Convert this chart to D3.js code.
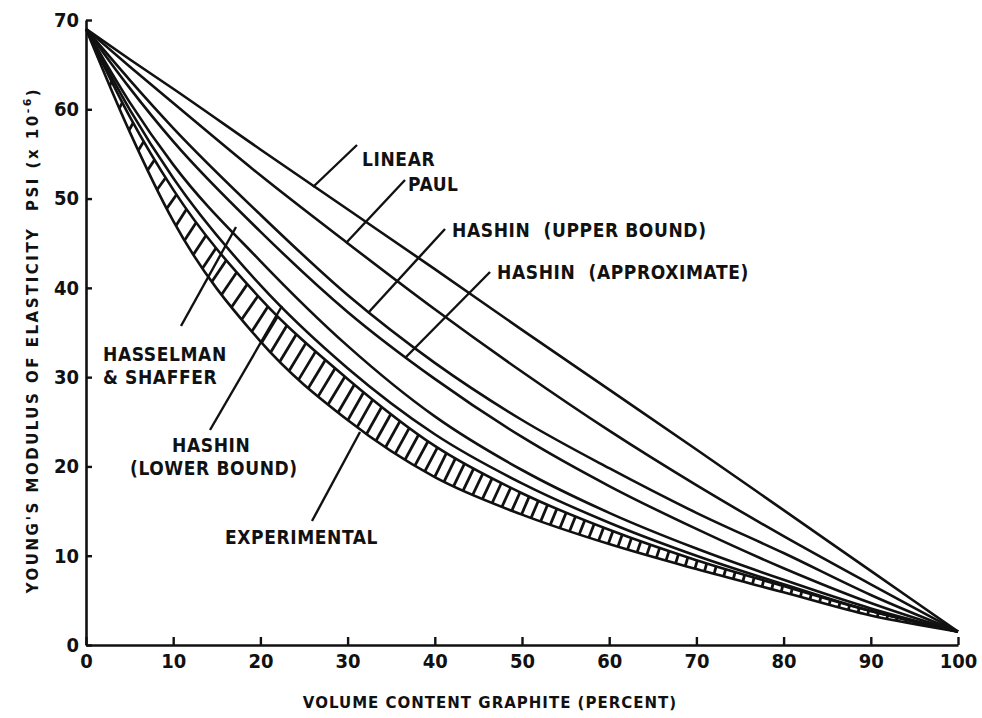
<!DOCTYPE html>
<html>
<head>
<meta charset="utf-8">
<script src="https://cdn.jsdelivr.net/npm/d3@7"></script>
<style>
  html, body { margin: 0; padding: 0; background: #fff; }
  svg text { font-family: "DejaVu Sans", sans-serif; font-weight: bold; fill: #111; white-space: pre; }
  svg text.cond { font-family: "DejaVu Sans Condensed", "DejaVu Sans", sans-serif; font-stretch: condensed; }
</style>
</head>
<body>
<svg id="chart" width="982" height="718"></svg>
<script>
// volume content graphite (percent)
const xs = [0, 5, 10, 20, 30, 40, 50, 60, 70, 80, 90, 100];

// Young's modulus (psi x 10^-6)
const linear      = [69, 65.6, 62.3, 55.5, 48.8, 42.1, 35.3, 28.6, 21.9, 15.1, 8.3, 1.5];
const paul        = [69, 64.8, 60.7, 52.6, 45.0, 37.6, 30.6, 24.0, 17.9, 12.2, 6.8, 1.5];
const hashinUpper = [69, 63.3, 57.9, 48.2, 39.2, 31.6, 25.2, 19.8, 14.8, 10.3, 5.6, 1.5];
const hashinApprox= [69, 62.4, 56.4, 46.3, 37.3, 29.8, 23.3, 17.8, 13.0, 8.6, 4.7, 1.5];
const hasselman   = [69, 60.8, 53.8, 43.0, 33.5, 25.6, 19.6, 14.8, 10.8, 7.3, 4.1, 1.5];
const hashinLower = [69, 60.0, 52.3, 40.3, 31.0, 23.6, 18.1, 13.7, 10.0, 6.8, 3.8, 1.5];
const expUpper    = [69, 59.2, 51.0, 38.8, 29.8, 22.3, 17.0, 12.9, 9.5, 6.6, 3.8, 1.5];
const expLower    = [69, 57.5, 47.5, 34.0, 25.2, 18.8, 14.6, 11.3, 8.5, 5.9, 3.3, 1.5];

const xTicks = [0, 10, 20, 30, 40, 50, 60, 70, 80, 90, 100];
const yTicks = [0, 10, 20, 30, 40, 50, 60, 70];

const svg = d3.select('#chart');

const x = d3.scaleLinear().domain([0, 100]).range([86, 958]);
const y = d3.scaleLinear().domain([0, 70]).range([645, 20]);

const pts = arr => xs.map((v, i) => [v, arr[i]]);

const line = d3.line()
  .x(d => x(d[0]))
  .y(d => y(d[1]))
  .curve(d3.curveMonotoneX);

// experimental band
const band = d3.area()
  .x(d => x(d[0]))
  .y0(d => y(d[1]))
  .y1(d => y(d[2]))
  .curve(d3.curveMonotoneX);
const bandData = xs.map((v, i) => [v, expLower[i], expUpper[i]]);

svg.append('clipPath').attr('id', 'bandClip')
  .append('path').attr('d', band(bandData));

svg.append('path')
  .attr('d', band(bandData))
  .attr('fill', '#fff');

// hatch strokes, roughly across the band, clipped to it
const lowAt = d3.scaleLinear().domain(xs).range(expLower);
const upAt = d3.scaleLinear().domain(xs).range(expUpper);
const hatch = svg.append('g').attr('clip-path', 'url(#bandClip)');
for (let v = 0.5; v < 99.5; v += 1.1) {
  const px = x(v);
  const pyLow = y(lowAt(v));
  const h = pyLow - y(upAt(v));
  const dx = Math.max(2, 0.35 * h);
  const pyUp = y(upAt(x.invert(px + dx)));
  hatch.append('line')
    .attr('x1', px - dx * 0.3)
    .attr('y1', pyLow + 4)
    .attr('x2', px + dx * 1.2)
    .attr('y2', pyUp - 4)
    .attr('stroke', '#111')
    .attr('stroke-width', 2.8);
}

[expUpper, expLower, hashinLower, hasselman, hashinApprox, hashinUpper, paul, linear].forEach(s => {
  svg.append('path')
    .attr('d', line(pts(s)))
    .attr('fill', 'none')
    .attr('stroke', '#111')
    .attr('stroke-width', 2.6)
    .attr('stroke-linejoin', 'round');
});

// axes
const xAxis = svg.append('g')
  .attr('transform', `translate(0,${y(0)})`)
  .call(d3.axisBottom(x).tickValues(xTicks).tickSizeInner(-8).tickSizeOuter(0).tickPadding(9));
const yAxis = svg.append('g')
  .attr('transform', `translate(${x(0)},0)`)
  .call(d3.axisLeft(y).tickValues(yTicks).tickSizeInner(-6).tickSizeOuter(0).tickPadding(7));

[xAxis, yAxis].forEach(g => {
  g.select('.domain').attr('stroke', '#111').attr('stroke-width', 2.6);
  g.selectAll('.tick line').attr('stroke', '#111').attr('stroke-width', 2.4);
  g.selectAll('.tick text')
    .attr('class', 'cond')
    .attr('font-size', 20)
    .attr('fill', '#111');
});

// axis titles
svg.append('text')
  .attr('x', 490)
  .attr('y', 708)
  .attr('text-anchor', 'middle')
  .attr('font-size', 15)
  .attr('letter-spacing', 1)
  .text('VOLUME CONTENT GRAPHITE (PERCENT)');

const yTitle = svg.append('text')
  .attr('transform', 'translate(38,340) rotate(-90)')
  .attr('text-anchor', 'middle')
  .attr('font-size', 15)
  .attr('letter-spacing', 2.5);
yTitle.append('tspan').text("YOUNG'S MODULUS OF ELASTICITY  PSI (x 10");
yTitle.append('tspan').attr('dy', -7).attr('font-size', 11).text('-6');
yTitle.append('tspan').attr('dy', 7).text(')');

// curve labels with leader lines
const labels = [
  { lines: ['LINEAR'], tx: 362, ty: 166, from: [313, 187], to: [357, 145] },
  { lines: ['PAUL'], tx: 408, ty: 191, from: [346, 243], to: [405, 180] },
  { lines: ['HASHIN  (UPPER BOUND)'], tx: 452, ty: 237, from: [368, 313], to: [445, 229] },
  { lines: ['HASHIN  (APPROXIMATE)'], tx: 497, ty: 279, from: [406, 357], to: [490, 272] },
  { lines: ['HASSELMAN', '& SHAFFER'], tx: 103, ty: 361, from: [181, 326], to: [236, 227] },
  { lines: ['HASHIN', '(LOWER BOUND)'], tx: 172, ty: 452, dx2: -42, from: [210, 430], to: [282, 306] },
  { lines: ['EXPERIMENTAL'], tx: 225, ty: 544, from: [312, 521], to: [360, 432] }
];

labels.forEach(l => {
  svg.append('line')
    .attr('x1', l.from[0]).attr('y1', l.from[1])
    .attr('x2', l.to[0]).attr('y2', l.to[1])
    .attr('stroke', '#111')
    .attr('stroke-width', 2.4);
  l.lines.forEach((t, i) => {
    svg.append('text')
      .attr('class', 'cond')
      .attr('x', l.tx + (i > 0 && l.dx2 ? l.dx2 : 0))
      .attr('y', l.ty + i * 23)
      .attr('font-size', 19)
      .attr('letter-spacing', 0.6)
      .text(t);
  });
});
</script>
</body>
</html>
